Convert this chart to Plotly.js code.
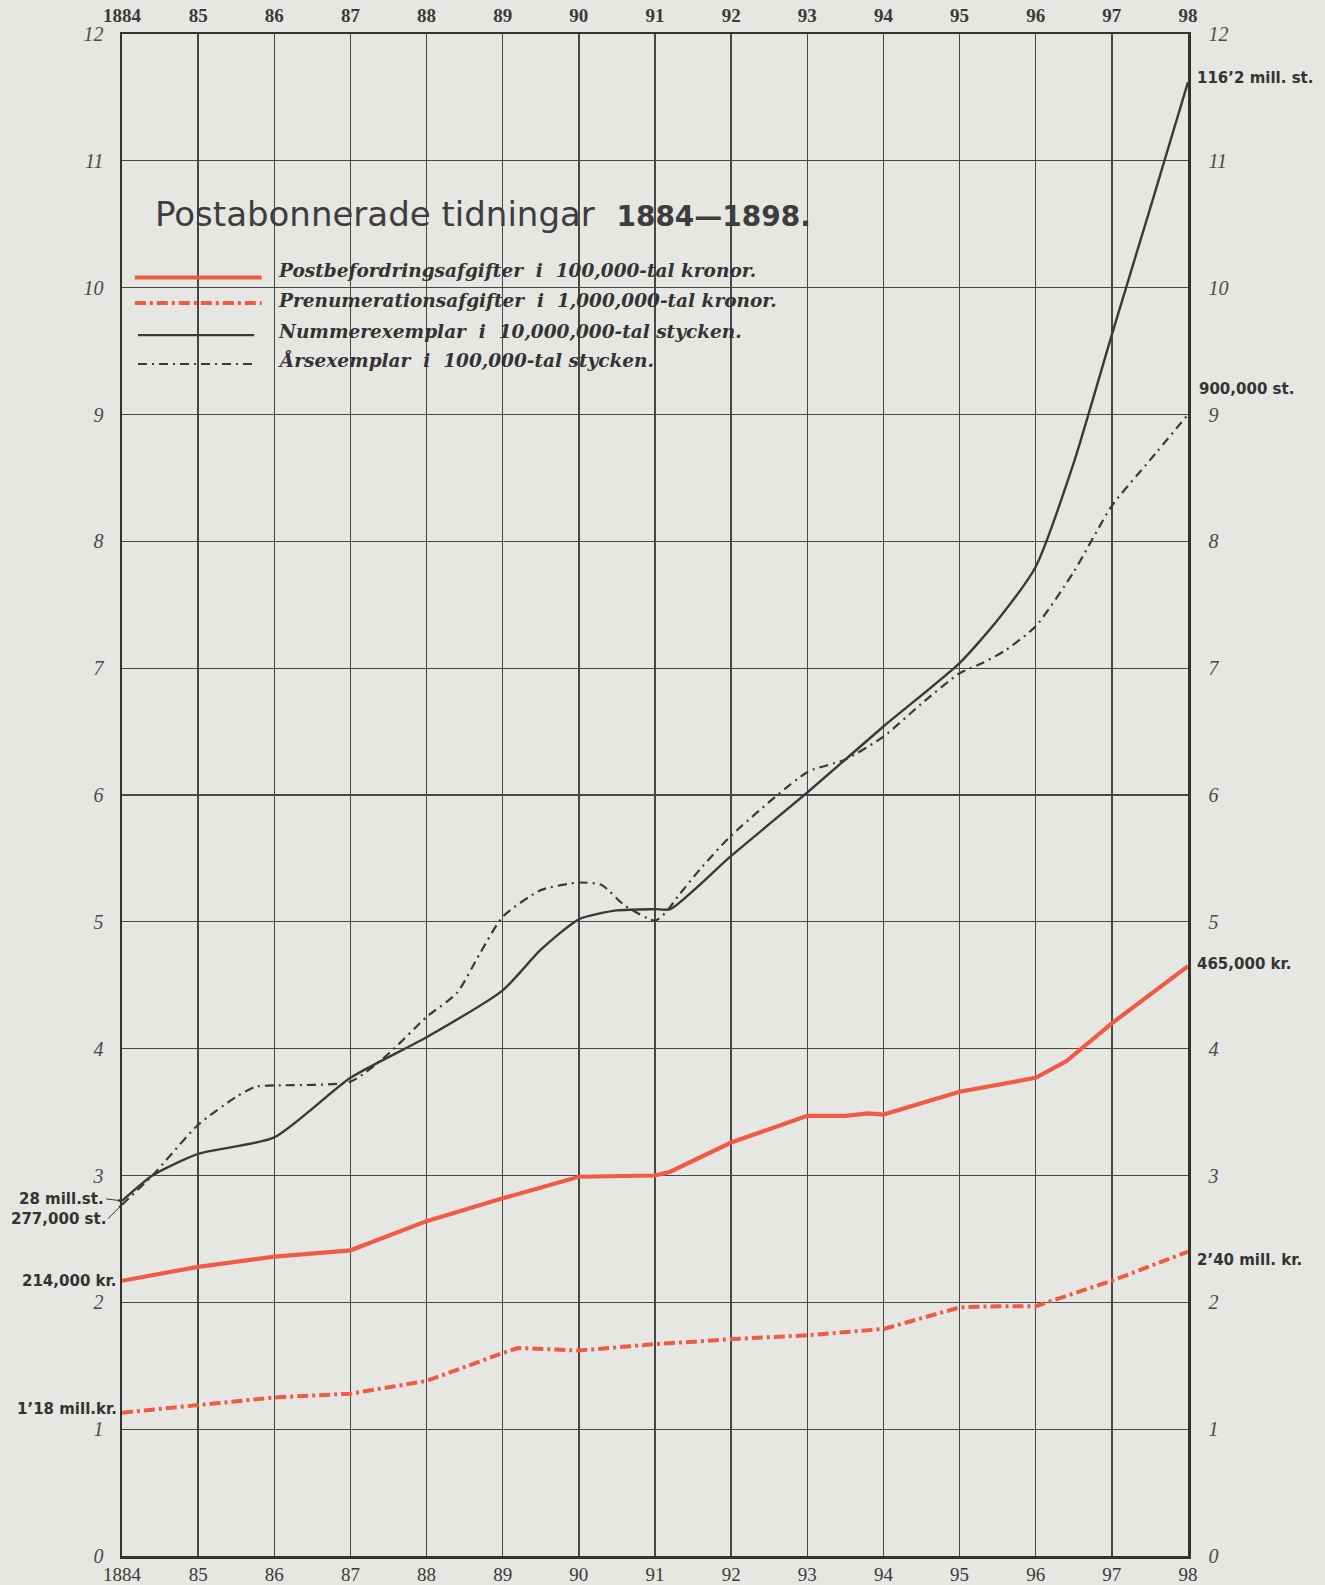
<!DOCTYPE html>
<html>
<head>
<meta charset="utf-8">
<script src="https://cdn.plot.ly/plotly-3.0.1.min.js"></script>
<style>
html,body{margin:0;padding:0;background:#e6e6e3;}
#chart{width:1325px;height:1585px;}
</style>
</head>
<body>
<div id="chart"></div>
<script>
// ---- data ----
const yearTicks = [1884,1885,1886,1887,1888,1889,1890,1891,1892,1893,1894,1895,1896,1897,1898];
const yearLabels = ['1884','85','86','87','88','89','90','91','92','93','94','95','96','97','98'];
const valueTicks = [0,1,2,3,4,5,6,7,8,9,10,11,12];

// Postbefordringsafgifter i 100,000-tal kronor
const postX = [1884,1885,1886,1887,1888,1889,1890,1891,1891.2,1892,1893,1893.5,1893.8,1894,1895,1896,1896.4,1897,1898];
const postY = [2.17,2.28,2.36,2.41,2.64,2.82,2.99,3.00,3.03,3.26,3.47,3.47,3.49,3.48,3.66,3.77,3.90,4.20,4.65];

// Prenumerationsafgifter i 1,000,000-tal kronor
const prenX = [1884,1885,1886,1887,1888,1889,1889.2,1890,1891,1892,1893,1894,1895,1895.5,1896,1897,1898];
const prenY = [1.13,1.19,1.25,1.28,1.38,1.60,1.64,1.62,1.67,1.71,1.74,1.79,1.96,1.97,1.97,2.17,2.40];

// Nummerexemplar i 10,000,000-tal stycken
const numX = [1884,1884.4,1885,1886,1887,1888,1889,1889.5,1890,1890.5,1891,1891.2,1892,1893,1894,1895,1895.5,1896,1896.5,1897,1897.5,1898];
const numY = [2.80,3.00,3.17,3.30,3.77,4.09,4.46,4.78,5.02,5.09,5.10,5.10,5.52,6.02,6.54,7.04,7.38,7.80,8.62,9.63,10.62,11.62];

// Årsexemplar i 100,000-tal stycken
const arsX = [1884,1884.4,1885,1885.5,1885.75,1886,1887,1887.5,1888,1888.4,1888.7,1889,1889.5,1890,1890.3,1890.6,1891,1891.15,1891.3,1891.6,1892,1893,1893.5,1894,1894.5,1895,1895.3,1895.6,1896,1896.5,1897,1897.5,1898];
const arsY = [2.77,3.00,3.40,3.62,3.70,3.71,3.74,3.96,4.25,4.44,4.75,5.04,5.25,5.31,5.29,5.13,5.01,5.08,5.20,5.42,5.68,6.18,6.28,6.46,6.72,6.96,7.04,7.14,7.33,7.76,8.28,8.64,9.00];

const seriesNames = [
  'Postbefordringsafgifter  i  100,000-tal kronor.',
  'Prenumerationsafgifter  i  1,000,000-tal kronor.',
  'Nummerexemplar  i  10,000,000-tal stycken.',
  'Årsexemplar  i  100,000-tal stycken.'
];

// ---- styles ----
const RED = '#ef5b45';
const INK = '#3a3a3a';
const GRID = '#474747';
const redDashDot = '11px,4px,3px,4px';
const inkDashDot = '9px,5px,2px,5px';

const traces = [
  {x: postX, y: postY, name: seriesNames[0], mode: 'lines',
   line: {color: RED, width: 4.2, shape: 'linear'}},
  {x: prenX, y: prenY, name: seriesNames[1], mode: 'lines',
   line: {color: RED, width: 4, dash: redDashDot, shape: 'linear'}},
  {x: numX, y: numY, name: seriesNames[2], mode: 'lines',
   line: {color: INK, width: 2.4, shape: 'spline', smoothing: 0.6}},
  {x: arsX, y: arsY, name: seriesNames[3], mode: 'lines', xaxis: 'x2', yaxis: 'y2',
   line: {color: INK, width: 2.2, dash: inkDashDot, shape: 'spline', smoothing: 0.6}}
];
traces.forEach(t => { t.showlegend = false; t.hoverinfo = 'skip'; });

const tickFontBottom = {family: 'Liberation Serif, DejaVu Serif, serif', size: 19, color: '#3a3a3a'};
const tickFontTop = {family: 'Liberation Serif, DejaVu Serif, serif', size: 19, color: '#3a3a3a', weight: 'bold'};
const valFont = {family: 'Liberation Serif, DejaVu Serif, serif', size: 20, color: '#4a4a4a', style: 'italic'};

const commonX = {
  range: [1884, 1898], tickmode: 'array', tickvals: yearTicks, ticktext: yearLabels,
  ticks: '', showline: true, linecolor: '#333', linewidth: 2.5,
  zeroline: false, fixedrange: true
};
const commonY = {
  range: [0, 12], tickmode: 'array', tickvals: valueTicks, ticktext: valueTicks.map(String),
  ticks: '', showline: true, linecolor: '#333', linewidth: 2.5,
  zeroline: false, fixedrange: true, tickfont: valFont
};

// legend drawn as shapes + text inside the plot (paper coordinates)
const legendRows = [
  {y: 0.8400, ty: 0.8445, color: RED, width: 4.2, dash: 'solid', x0: 0.012, x1: 0.131},
  {y: 0.8232, ty: 0.8250, color: RED, width: 4, dash: redDashDot, x0: 0.012, x1: 0.131},
  {y: 0.8022, ty: 0.8045, color: INK, width: 2.2, dash: 'solid', x0: 0.015, x1: 0.124},
  {y: 0.7832, ty: 0.7860, color: INK, width: 2, dash: inkDashDot, x0: 0.015, x1: 0.124}
];
const shapes = legendRows.map(r => ({
  type: 'line', xref: 'paper', yref: 'paper', x0: r.x0, x1: r.x1, y0: r.y, y1: r.y,
  line: {color: r.color, width: r.width, dash: r.dash}
}));

const legendFont = {family: 'DejaVu Serif, serif', size: 18.5, color: '#333', style: 'italic', weight: 'bold'};
const labelFont = {family: 'DejaVu Sans, sans-serif', size: 15, color: '#333', weight: 'bold'};

const annotations = [
  {xref: 'paper', yref: 'paper', x: 0.029, y: 0.8815, xanchor: 'left', yanchor: 'middle', showarrow: false,
   text: 'Postabonnerade tidningar  <span style="font-size:28px"><b>1884—1898.</b></span>',
   font: {family: 'DejaVu Sans, sans-serif', size: 34, color: '#3d3d3d'}}
].concat(legendRows.map((r, i) => ({
  xref: 'paper', yref: 'paper', x: 0.144, y: r.ty, xanchor: 'left', yanchor: 'middle',
  showarrow: false, text: seriesNames[i], font: legendFont
}))).concat([
  // right end labels
  {x: numX[numX.length-1], y: numY[numY.length-1], xanchor: 'left', yanchor: 'middle', xshift: 7, yshift: 4,
   showarrow: false, text: '116’2 mill. st.', font: labelFont},
  {x: arsX[arsX.length-1], y: arsY[arsY.length-1], xref: 'x2', yref: 'y2', xanchor: 'left', yanchor: 'middle', xshift: 9, yshift: 26,
   showarrow: false, text: '900,000 st.', font: labelFont},
  {x: postX[postX.length-1], y: postY[postY.length-1], xanchor: 'left', yanchor: 'middle', xshift: 7, yshift: 2,
   showarrow: false, text: '465,000 kr.', font: labelFont},
  {x: prenX[prenX.length-1], y: prenY[prenY.length-1], xanchor: 'left', yanchor: 'middle', xshift: 7, yshift: -8,
   showarrow: false, text: '2’40 mill. kr.', font: labelFont},
  // left start labels
  {x: numX[0], y: numY[0], xanchor: 'right', yanchor: 'middle', showarrow: true, ax: -16, ay: -2,
   arrowhead: 2, arrowsize: 0.7, arrowwidth: 1, arrowcolor: '#333', standoff: 0,
   text: '28 mill.st.', font: labelFont},
  {x: arsX[0], y: arsY[0], xref: 'x2', yref: 'y2', xanchor: 'right', yanchor: 'middle', showarrow: true, ax: -14, ay: 14,
   arrowhead: 2, arrowsize: 0.7, arrowwidth: 1, arrowcolor: '#333', standoff: 0,
   text: '277,000 st.', font: labelFont},
  {x: postX[0], y: postY[0], xanchor: 'right', yanchor: 'middle', xshift: -4, yshift: 0,
   showarrow: false, text: '214,000 kr.', font: labelFont},
  {x: prenX[0], y: prenY[0], xanchor: 'right', yanchor: 'middle', xshift: -3, yshift: 4,
   showarrow: false, text: '1’18 mill.kr.', font: labelFont}
]);

const layout = {
  width: 1325, height: 1585,
  margin: {l: 122, r: 137, t: 34, b: 29, pad: 0},
  paper_bgcolor: '#e6e6e3', plot_bgcolor: '#e6e6e3',
  showlegend: false,
  xaxis: Object.assign({}, commonX, {side: 'bottom', showgrid: true, gridcolor: GRID, gridwidth: 1.3,
    tickfont: tickFontBottom, ticklabelstandoff: 0}),
  xaxis2: Object.assign({}, commonX, {side: 'top', overlaying: 'x', showgrid: false,
    tickfont: tickFontTop, ticklabelstandoff: 2}),
  yaxis: Object.assign({}, commonY, {side: 'left', showgrid: true, gridcolor: GRID, gridwidth: 1.3,
    ticklabelstandoff: 12}),
  yaxis2: Object.assign({}, commonY, {side: 'right', overlaying: 'y', showgrid: false,
    ticklabelstandoff: 14}),
  shapes: shapes,
  annotations: annotations
};

Plotly.newPlot('chart', traces, layout, {displayModeBar: false, staticPlot: true});
</script>
</body>
</html>
